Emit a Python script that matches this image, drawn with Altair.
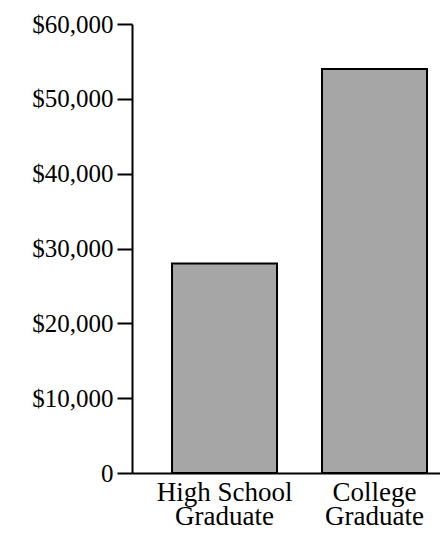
import altair as alt
import pandas as pd

categories = ["High School Graduate", "College Graduate"]
earnings = [28000, 54000]
y_ticks = [0, 10000, 20000, 30000, 40000, 50000, 60000]

df = pd.DataFrame({"education": categories, "earnings": earnings})

FONT = "Liberation Serif"

chart = (
    alt.Chart(df)
    .mark_bar(color="#a6a6a6", stroke="black", strokeWidth=2)
    .encode(
        x=alt.X(
            "education:N",
            sort=categories,
            title=None,
            scale=alt.Scale(paddingInner=0.3, paddingOuter=0.1767, align=0.755),
            axis=alt.Axis(
                labelAngle=0,
                ticks=False,
                labelPadding=6,
                labelFont=FONT,
                labelFontSize=27,
                labelColor="black",
                labelLineHeight=24,
                domainColor="black",
                domainWidth=2,
                labelExpr="[slice(datum.value, 0, lastindexof(datum.value, ' ')), slice(datum.value, lastindexof(datum.value, ' ') + 1)]",
            ),
        ),
        y=alt.Y(
            "earnings:Q",
            title=None,
            scale=alt.Scale(domain=[0, 60000], nice=False),
            axis=alt.Axis(
                values=y_ticks,
                grid=False,
                tickSize=15,
                tickWidth=2,
                tickColor="black",
                domainColor="black",
                domainWidth=2,
                labelPadding=4,
                labelFont=FONT,
                labelFontSize=25,
                labelColor="black",
                labelExpr="datum.value == 0 ? '0' : '$' + format(datum.value, ',')",
            ),
        ),
    )
    .properties(
        width=308,
        height=449,
        autosize=alt.AutoSizeParams(type="none"),
        padding={"left": 124, "top": 16, "right": 0, "bottom": 53},
    )
    .configure_view(stroke=None)
)

chart.save("out.html", embed_options={"renderer": "svg", "actions": False})
